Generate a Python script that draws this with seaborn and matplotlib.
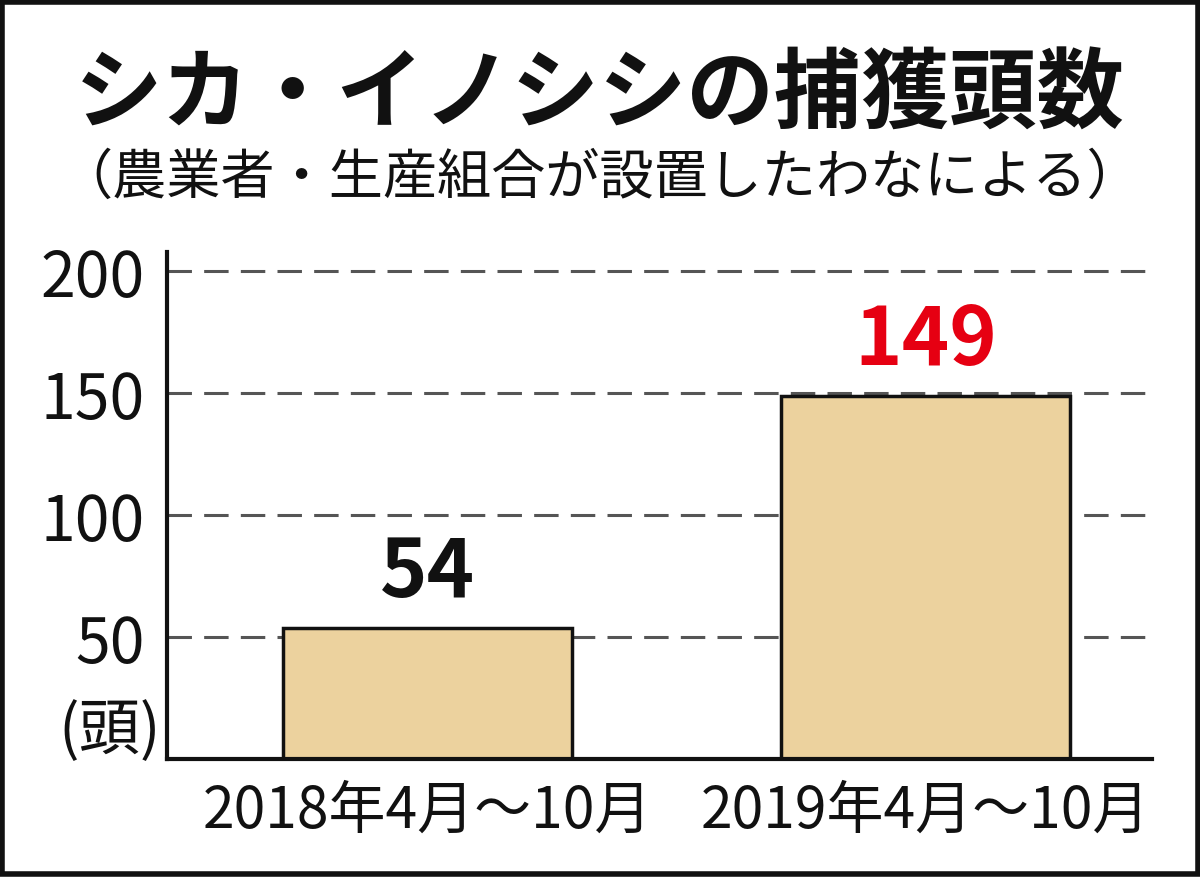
import matplotlib
matplotlib.use("Agg")
import matplotlib.pyplot as plt
import seaborn as sns
import pandas as pd
from matplotlib.patches import Rectangle

# データ
periods = ["2018年4月～10月", "2019年4月～10月"]
counts = [54, 149]
label_colors = ["#111111", "#e60012"]
yticks = [50, 100, 150, 200]

title = "シカ・イノシシの捕獲頭数"
subtitle = "（農業者・生産組合が設置したわなによる）"
unit = "(頭)"

sns.set_theme(style="white")
plt.rcParams["font.family"] = ["Noto Sans CJK JP", "DejaVu Sans"]
num_font = ["Liberation Sans Narrow", "Noto Sans CJK JP", "DejaVu Sans"]

df = pd.DataFrame({"period": periods, "count": counts})

fig = plt.figure(figsize=(12, 8.78), dpi=100)
ax = fig.add_axes([0.139, 0.134, 0.821, 0.578])

sns.barplot(data=df, x="period", y="count", color="#ecd29e", width=0.58,
            edgecolor="#111111", linewidth=2.5, saturation=1, ax=ax, zorder=3)

ax.set_ylim(0, 208)
ax.set_xlim(-0.524, 1.454)
ax.set_yticks(yticks)
ax.set_yticklabels([str(t) for t in yticks], fontsize=45, family=num_font)
ax.set_xticks(range(len(periods)))
ax.set_xticklabels(periods, fontsize=41, family=num_font)
ax.tick_params(axis="both", length=0, colors="#111111")
ax.tick_params(axis="y", pad=16)
ax.tick_params(axis="x", pad=16)
ax.set_xlabel("")
ax.set_ylabel("")

# 破線グリッド
for y in yticks:
    ax.axhline(y, color="#555555", lw=2.2, ls=(0, (8, 4)), zorder=2)

for s in ["top", "right"]:
    ax.spines[s].set_visible(False)
for s in ["left", "bottom"]:
    ax.spines[s].set_color("#111111")
    ax.spines[s].set_linewidth(3)
    ax.spines[s].set_zorder(4)

for i, (v, c) in enumerate(zip(counts, label_colors)):
    ax.text(i, v + 6, str(v), ha="center", va="bottom", fontsize=58,
            fontweight="bold", color=c, family=["Noto Sans CJK JP"])

ax.text(-0.006, -0.005, unit, transform=ax.transAxes, ha="right", va="bottom",
        fontsize=44, color="#111111", family=num_font)

fig.text(0.5, 0.89, title, ha="center", va="center", fontsize=63,
         fontweight="bold", color="#111111")
fig.text(0.5, 0.797, subtitle, ha="center", va="center", fontsize=39,
         color="#111111")

# 外枠
fig.patches.append(Rectangle((0.002, 0.003), 0.996, 0.994, transform=fig.transFigure,
                             fill=False, edgecolor="#111111", linewidth=4))

fig.savefig("out.png", dpi=100)
